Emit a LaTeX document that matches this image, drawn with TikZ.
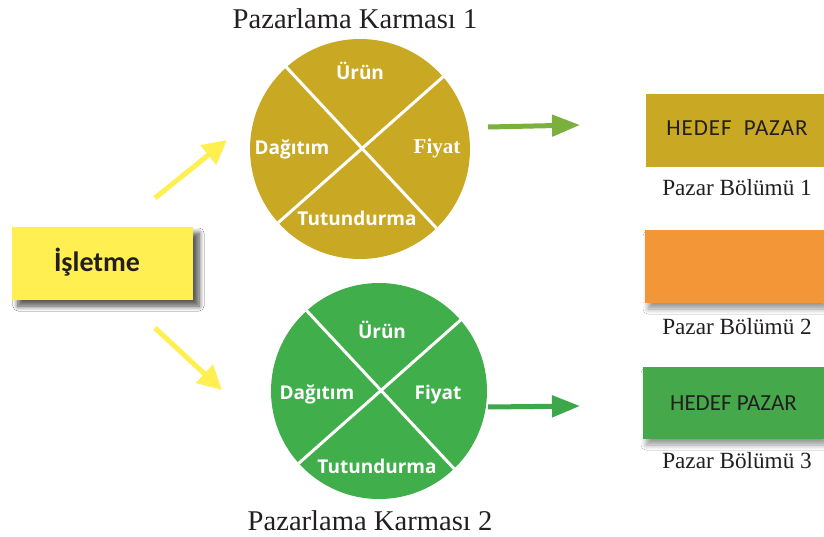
\documentclass[tikz,border=0pt]{standalone}
\usepackage{fontspec}
\setmainfont{Liberation Serif}
\newfontfamily\labfont{Open Sans}
\newfontfamily\carl{Carlito}
\newfontfamily\carlspaced{Carlito}[LetterSpace=4]
\usetikzlibrary{arrows.meta,shadows.blur}
\definecolor{gold}{RGB}{201,169,35}
\definecolor{mixgreen}{RGB}{64,174,74}
\definecolor{boxgreen}{RGB}{69,168,74}
\definecolor{orangebox}{RGB}{243,150,56}
\definecolor{yel}{RGB}{255,239,80}
\definecolor{olivearrow}{RGB}{124,176,62}
\definecolor{greenarrow}{RGB}{61,168,74}
\definecolor{txt}{RGB}{35,31,32}
\tikzset{
  mixcircle/.style={circle, inner sep=0pt, minimum size=#1},
  divider/.style={draw=white, line width=3pt},
  seglabel/.style={text=white, font=\labfont\bfseries\fontsize{19}{20}\selectfont},
  title/.style={text=txt, font=\fontsize{28.6}{30}\selectfont},
  segname/.style={text=txt, font=\fontsize{23.2}{25}\selectfont},
  targetbox/.style={rectangle, inner sep=0pt, minimum width=179pt, minimum height=73pt, text=txt, font=\carl\fontsize{23}{25}\selectfont},
  boxshadow/.style={blur shadow={shadow xshift=3pt, shadow yshift=-6pt, shadow blur steps=8, shadow blur radius=5pt}},
  yarrow/.style={draw=yel, line width=5pt, -{Triangle[length=24pt, width=24pt]}},
  garrow/.style={line width=5pt, -{Triangle[length=28pt, width=21pt]}},
}
\begin{document}
\begin{tikzpicture}[x=1pt, y=-1pt]
\useasboundingbox (0,0) rectangle (824,537);
\fill[white] (0,0) rectangle (824,537);

% business box
\node[rectangle, fill=yel, minimum width=181pt, minimum height=73pt, inner sep=0pt,
      boxshadow, blur shadow={shadow xshift=6pt, shadow yshift=-6pt}] (isl) at (102.5,263.5) {};
\node[text=txt, font=\carl\bfseries\fontsize{28}{30}\selectfont] (islt) at (97,262) {İşletme};

% mix 1
\node[mixcircle=220pt, fill=gold] (c1) at (360,149) {};
\draw[divider] (c1.132) -- (c1.314);
\draw[divider] (c1.41) -- (c1.222);
\node[seglabel] (u1) at (360,71) {Ürün};
\node[seglabel] (d1) at (292,149) {Dağıtım};
\node[text=white, font=\bfseries\fontsize{21}{22}\selectfont] (f1) at (437,148) {Fiyat};
\node[seglabel] (t1) at (357,218) {Tutundurma};
\node[title] (k1) at (355,19) {Pazarlama Karması 1};

% mix 2
\node[mixcircle=216pt, fill=mixgreen] (c2) at (379,391) {};
\draw[divider] (c2.132) -- (c2.314);
\draw[divider] (c2.41) -- (c2.222);
\node[seglabel] (u2) at (382,330) {Ürün};
\node[seglabel] (d2) at (317,394) {Dağıtım};
\node[seglabel] (f2) at (438,395) {Fiyat};
\node[seglabel] (t2) at (377,466) {Tutundurma};
\node[title] (k2) at (370,521) {Pazarlama Karması 2};

% yellow arrows
\coordinate (ya1) at (155,198);
\coordinate (yb1) at (227,140);
\coordinate (ya2) at (155,328);
\coordinate (yb2) at (222,390);
\draw[yarrow] (ya1) -- (yb1);
\draw[yarrow] (ya2) -- (yb2);

% target boxes
\node[targetbox, fill=gold] (h1) at (735.5,130.5) {};
\node[text=txt, font=\carlspaced\fontsize{23}{25}\selectfont] (h1t) at (737,128) {HEDEF~~PAZAR};
\node[segname] (p1) at (737,188) {Pazar Bölümü 1};

\node[targetbox, fill=orangebox, boxshadow] (h2) at (734.5,266.5) {};
\node[segname] (p2) at (737,327) {Pazar Bölümü 2};

\node[targetbox, fill=boxgreen, minimum width=181pt, minimum height=72pt, boxshadow] (h3) at (733.5,403) {HEDEF PAZAR};
\node[segname] (p3) at (737,461) {Pazar Bölümü 3};

% green arrows
\coordinate (ga1) at (488,127);
\coordinate (gb1) at (580,125);
\coordinate (ga2) at (488,407);
\coordinate (gb2) at (580,406);
\draw[garrow, draw=olivearrow] (ga1) -- (gb1);
\draw[garrow, draw=greenarrow] (ga2) -- (gb2);
\end{tikzpicture}
\end{document}
